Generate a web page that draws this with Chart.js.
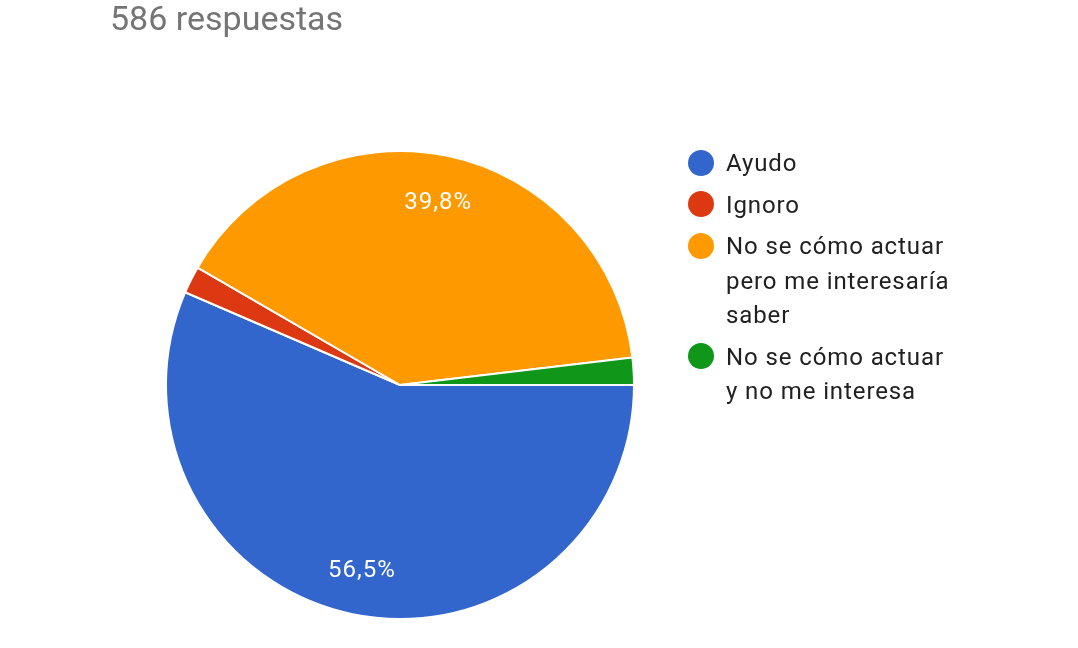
<!DOCTYPE html>
<html>
<head>
<meta charset="utf-8">
<title>586 respuestas</title>
<script src="https://cdn.jsdelivr.net/npm/chart.js@4"></script>
<style>
  body { margin: 0; background: #fff; font-family: Roboto, "Noto Sans", sans-serif; }
  #wrap { position: relative; width: 1078px; height: 648px; overflow: hidden; }
  #titulo { position: absolute; left: 110px; top: 1px; font-size: 34px; line-height: 34px; color: #757575; white-space: nowrap; }
  #leyenda { position: absolute; left: 688px; top: 146px; }
  .item { display: flex; align-items: flex-start; margin-bottom: 7px; }
  .punto { width: 26px; height: 26px; border-radius: 50%; margin-top: 3.5px; flex: none; }
  .texto { margin-left: 12px; width: 234px; font-size: 24px; line-height: 34.5px; letter-spacing: 0.9px; color: #212121; }
</style>
</head>
<body>
<div id="wrap">
  <canvas id="pie-chart" width="1078" height="648"></canvas>
  <div id="titulo">586 respuestas</div>
  <div id="leyenda"></div>
</div>
<script>
// datos (586 respuestas)
var categorias = ['Ayudo', 'Ignoro', 'No se cómo actuar pero me interesaría saber', 'No se cómo actuar y no me interesa'];
var respuestas = [331, 11, 233, 11];
var colores = ['#3366cc', '#dc3912', '#ff9900', '#109618'];

var total = respuestas.reduce(function (a, b) { return a + b; }, 0);

// porcentajes dentro de las porciones grandes
var etiquetas = {
  id: 'etiquetas',
  afterDatasetsDraw: function (chart) {
    var ctx = chart.ctx;
    var meta = chart.getDatasetMeta(0);
    ctx.save();
    ctx.fillStyle = '#ffffff';
    ctx.font = '24px Roboto';
    ctx.letterSpacing = '1px';
    ctx.textAlign = 'center';
    ctx.textBaseline = 'middle';
    meta.data.forEach(function (arc, i) {
      var pct = respuestas[i] / total * 100;
      if (pct < 5) return;
      var p = arc.getProps(['x', 'y', 'startAngle', 'endAngle', 'outerRadius'], true);
      var mid = (p.startAngle + p.endAngle) / 2;
      var r = p.outerRadius * 0.805;
      var txt = pct.toFixed(1).replace('.', ',') + '%';
      ctx.fillText(txt, p.x + Math.cos(mid) * r, p.y + Math.sin(mid) * r + 2);
    });
    ctx.restore();
  }
};

new Chart(document.getElementById('pie-chart'), {
  type: 'pie',
  data: {
    labels: categorias,
    datasets: [{
      data: respuestas,
      backgroundColor: colores,
      borderColor: '#ffffff',
      borderWidth: 2
    }]
  },
  options: {
    responsive: false,
    animation: false,
    rotation: 90,
    layout: { padding: { left: 165, right: 443, top: 150, bottom: 28 } },
    plugins: {
      legend: { display: false },
      tooltip: { enabled: false }
    }
  },
  plugins: [etiquetas]
});

// leyenda a la derecha
var leyenda = document.getElementById('leyenda');
categorias.forEach(function (cat, i) {
  var item = document.createElement('div');
  item.className = 'item';
  var punto = document.createElement('div');
  punto.className = 'punto';
  punto.style.background = colores[i];
  var texto = document.createElement('div');
  texto.className = 'texto';
  texto.textContent = cat;
  item.appendChild(punto);
  item.appendChild(texto);
  leyenda.appendChild(item);
});
</script>
</body>
</html>
